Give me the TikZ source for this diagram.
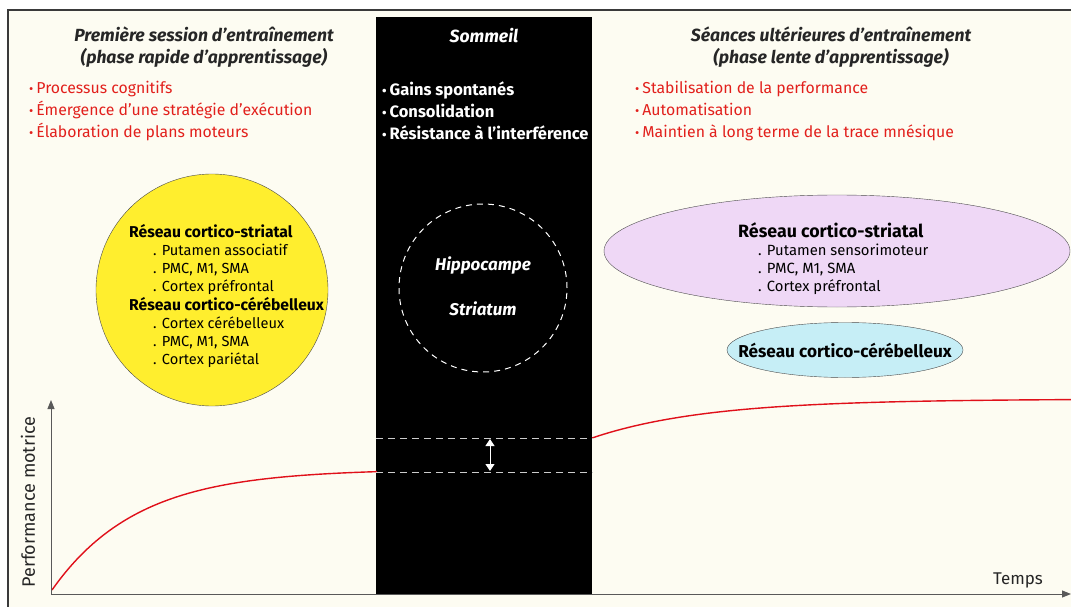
\documentclass[tikz,border=0pt]{standalone}
\usepackage{fontspec}
\setmainfont{Fira Sans}
\usepackage{xcolor}
\usepackage{tikz}
\usetikzlibrary{arrows.meta,positioning,shapes.geometric,calc}

\definecolor{creme}{HTML}{FDFCF2}
\definecolor{rougetxt}{HTML}{E2201C}
\definecolor{rougecourbe}{HTML}{E0101A}
\definecolor{jaune}{HTML}{FFEE2E}
\definecolor{mauve}{HTML}{EFD8F6}
\definecolor{cyanclair}{HTML}{C6EEF6}
\definecolor{cadre}{HTML}{3A3A3A}
\newcommand{\puceronde}{{\fontsize{13}{13}\selectfont\raisebox{0.3pt}{•}}\hspace{3pt}}

\begin{document}
\begin{tikzpicture}[x=1pt, y=-1pt,
  titre/.style={font=\fontsize{17.6}{22}\selectfont\bfseries\itshape, text=black!85, align=center},
  puce/.style={font=\fontsize{15.8}{22}\selectfont, text=rougetxt, align=left, anchor=west, inner sep=0pt},
  reseau/.style={font=\fontsize{14.6}{18.2}\selectfont, align=left, inner sep=0pt},
  axe/.style={draw=black!65, line width=1pt, -{Triangle[length=9pt,width=7pt]}},
  courbe/.style={draw=rougecourbe, line width=1.4pt},
  pointille/.style={draw=white!80!black, line width=1pt, dash pattern=on 7pt off 5pt}]
  \useasboundingbox (0,0) rectangle (1071,607);
  \fill[white] (0,0) rectangle (1071,607);
  \begin{scope}
    \clip (0,0) rectangle (1071,607);
    \draw[cadre, line width=1.5pt, fill=creme] (8,10) rectangle (1085,620);
  \end{scope}

  % bande du sommeil
  \node[fill=black, inner sep=0pt, minimum width=216, minimum height=578, anchor=north west] (bande) at (376,17) {};

  % titres
  \node[titre] (titregauche) at (204,47) {Première session d’entraînement\\(phase rapide d’apprentissage)};
  \node[titre, text=white] (titresommeil) at (484,36) {Sommeil};
  \node[titre] (titredroite) at (831,47) {Séances ultérieures d’entraînement\\(phase lente d’apprentissage)};

  % listes
  \node[puce] (listegauche) at (29,111) {\puceronde Processus cognitifs\\\puceronde Émergence d’une stratégie d’exécution\\\puceronde Élaboration de plans moteurs};
  \node[puce, text=white, font=\fontsize{16.5}{22}\selectfont\bfseries] (listesommeil) at (382,111) {\puceronde Gains spontanés\\\puceronde Consolidation\\\puceronde Résistance à l’interférence};
  \node[puce] (listedroite) at (635,111) {\puceronde Stabilisation de la performance\\\puceronde Automatisation\\\puceronde Maintien à long terme de la trace mnésique};

  % reseaux
  \node[circle, draw=black!70, fill=jaune, minimum size=232, inner sep=0pt] (cerclejaune) at (212,290) {};
  \node[reseau, anchor=north west] (textejaune) at (129,224) {\textbf{\fontsize{15.7}{18.2}\selectfont Réseau cortico-striatal}\\
    \hspace*{24pt}. Putamen associatif\\\hspace*{24pt}. PMC, M1, SMA\\\hspace*{24pt}. Cortex préfrontal\\
    \textbf{\fontsize{15.7}{18.2}\selectfont Réseau cortico-cérébelleux}\\
    \hspace*{24pt}. Cortex cérébelleux\\\hspace*{24pt}. PMC, M1, SMA\\\hspace*{24pt}. Cortex pariétal};

  \node[circle, draw=white, line width=1pt, dash pattern=on 6pt off 5pt, minimum size=168, inner sep=0pt] (cerclesommeil) at (483,288) {};
  \node[titre, text=white, font=\fontsize{17}{45}\selectfont\bfseries\itshape] (structures) at (483,286) {Hippocampe\\Striatum};

  \node[ellipse, draw=black!70, fill=mauve, minimum width=466, minimum height=112, inner sep=0pt] (ellipsemauve) at (837,251) {};
  \node[reseau, font=\fontsize{14.8}{18}\selectfont, anchor=north west] (textemauve) at (738,222) {\textbf{\fontsize{17.8}{18}\selectfont Réseau cortico-striatal}\\
    \hspace*{20pt}. Putamen sensorimoteur\\\hspace*{20pt}. PMC, M1, SMA\\\hspace*{20pt}. Cortex préfrontal};

  \node[ellipse, draw=black!70, fill=cyanclair, minimum width=236, minimum height=55, inner sep=0pt] (ellipsebleue) at (845,350) {};
  \node[font=\fontsize{17.2}{18}\selectfont\bfseries, inner sep=0pt] (textebleu) at (ellipsebleue.center) {Réseau cortico-cérébelleux};

  % courbe de performance
  \draw[courbe] plot[domain=52:377, samples=80] (\x, {590-121*(1-exp(-(\x-52)/85))});
  \draw[courbe] plot[domain=592:1072, samples=80] (\x, {438-39*(1-exp(-(\x-592)/115))});

  \coordinate (hautg) at (bande.west |- 0,438);
  \coordinate (hautd) at (bande.east |- 0,438);
  \coordinate (basg) at (bande.west |- 0,472);
  \coordinate (basd) at (bande.east |- 0,472);
  \draw[pointille] (hautg) -- (hautd);
  \draw[pointille] (basg) -- (basd);
  \coordinate (gainhaut) at (490,439);
  \coordinate (gainbas) at (490,471);
  \draw[white, line width=1pt, {Triangle[length=7pt,width=9pt]}-{Triangle[length=7pt,width=9pt]}] (gainhaut) -- (gainbas);

  % axes
  \coordinate (origine) at (51,594);
  \coordinate (yfin) at (51,400);
  \coordinate (xfin) at (1071,594);
  \draw[axe] (origine) -- (yfin);
  \draw[axe] (origine) -- (xfin);
  \node[font=\fontsize{17}{18}\selectfont, text=black!85] (temps) at (1018,580) {Temps};
  \node[font=\fontsize{18}{18}\selectfont, text=black!85, rotate=90] (perf) at (28,502) {Performance motrice};
\end{tikzpicture}
\end{document}
